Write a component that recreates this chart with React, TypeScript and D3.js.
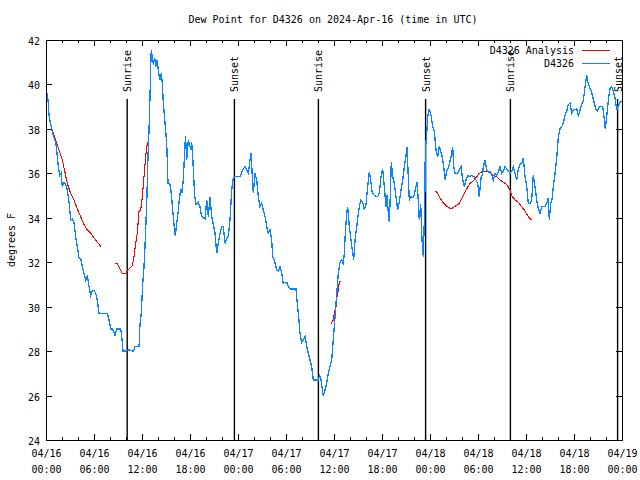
import React, { useEffect, useRef } from 'react';
import * as d3 from 'd3';

// hours after 2024-04-16 00:00 UTC
const dewHours = [
  0.16, 0.25, 0.38, 0.59, 0.91, 1.21, 1.41, 1.54, 1.71, 1.88, 2.04, 2.25, 2.46, 2.66, 2.88, 3.09, 3.29, 3.5, 3.71, 3.91,
  4.13, 4.34, 4.54, 4.75, 4.96, 5.16, 5.38, 5.59, 5.79, 6.0, 6.21, 6.41, 6.63, 6.88, 7.25, 7.66, 7.88, 8.09, 8.31, 8.63,
  8.84, 9.34, 9.46, 9.63, 10.0, 10.38, 10.91, 11.13, 11.63, 11.75, 11.91, 12.09, 12.25, 12.41, 12.59, 12.75, 12.88, 13.0,
  13.09, 13.16, 13.29, 13.41, 13.59, 13.71, 13.91, 14.04, 14.25, 14.41, 14.54, 14.66, 14.88, 15.09, 15.25, 15.5, 15.66,
  15.84, 16.0, 16.16, 16.34, 16.5, 16.66, 16.84, 17.0, 17.16, 17.34, 17.44, 17.59, 17.79, 17.91, 18.09, 18.21, 18.38,
  18.59, 18.75, 19.04, 19.25, 19.46, 19.88, 20.09, 20.29, 20.5, 20.71, 20.91, 21.13, 21.34, 21.54, 21.75, 21.96, 22.16,
  22.38, 22.59, 22.79, 23.0, 23.21, 23.41, 23.63, 24.25, 24.66, 24.88, 25.09, 25.29, 25.5, 25.63, 25.79, 25.91, 26.13,
  26.34, 26.54, 26.75, 26.96, 27.16, 27.38, 27.59, 27.79, 28.0, 28.21, 28.34, 28.54, 28.84, 29.04, 29.25, 29.46, 29.66,
  29.88, 30.09, 30.29, 30.5, 31.25, 31.41, 31.59, 31.75, 31.96, 32.16, 32.38, 32.59, 32.79, 33.0, 33.21, 33.41, 34.04,
  34.21, 34.38, 34.66, 34.88, 35.09, 35.29, 35.5, 35.71, 35.91, 36.13, 36.34, 36.54, 36.75, 36.96, 37.16, 37.29, 37.41,
  37.59, 37.71, 37.91, 38.13, 38.34, 38.46, 38.63, 38.84, 39.04, 39.25, 39.38, 39.59, 39.79, 40.0, 40.21, 40.41, 40.54,
  40.75, 41.04, 41.46, 41.66, 41.88, 42.09, 42.29, 42.5, 42.63, 42.79, 42.91, 43.04, 43.16, 43.34, 43.54, 43.75, 43.96,
  44.16, 44.38, 44.59, 44.79, 45.0, 45.13, 45.25, 45.41, 45.63, 45.84, 46.04, 46.25, 46.38, 46.5, 46.66, 46.84, 47.0,
  47.16, 47.34, 47.41, 47.59, 47.71, 47.91, 48.13, 48.34, 48.54, 48.75, 48.96, 49.16, 49.5, 49.66, 49.91, 50.09, 50.34,
  50.63, 50.84, 50.96, 51.13, 51.46, 51.66, 51.88, 52.09, 52.29, 52.5, 52.71, 52.91, 53.13, 53.54, 53.75, 53.96, 54.16,
  54.38, 54.59, 54.66, 54.88, 55.09, 55.29, 55.5, 55.71, 55.91, 56.13, 56.34, 56.54, 56.75, 56.96, 57.16, 57.38, 57.59,
  57.79, 58.0, 58.21, 58.41, 58.63, 58.84, 59.04, 59.25, 59.46, 59.66, 59.88, 60.09, 60.29, 60.5, 60.71, 60.91, 61.13,
  61.34, 61.54, 61.75, 61.96, 62.38, 62.59, 62.79, 62.91, 63.09, 63.25, 63.41, 63.63, 63.84, 64.04, 64.25, 64.46, 64.66,
  64.88, 65.09, 65.29, 65.5, 65.71, 65.91, 66.34, 66.54, 66.75, 66.96, 67.16, 67.38, 67.59, 67.75, 67.91, 68.13, 68.34,
  68.54, 68.75, 68.91, 69.16, 69.59, 69.75, 69.91, 70.09, 70.29, 70.5, 70.71, 70.91, 71.13, 71.34, 71.5, 71.66, 71.96
];
const dewValues = [
  39.6, 39.3, 38.6, 38.2, 37.7, 37.4, 36.8, 36.3, 35.9, 36.0, 35.4, 35.6, 35.5, 35.25, 34.7, 33.9, 33.95, 33.8, 33.15, 32.7,
  32.2, 32.15, 31.8, 31.5, 31.2, 31.4, 30.9, 30.5, 30.7, 30.75, 30.6, 30.3, 29.7, 29.7, 29.7, 29.7, 29.4, 29.0, 29.0, 28.7,
  29.0, 29.0, 28.7, 28.0, 28.0, 28.05, 28.0, 28.2, 28.2, 29.2, 29.7, 31.0, 31.8, 33.0, 34.65, 36.75, 38.0, 39.45,
  40.8, 41.55, 41.25, 40.9, 41.2, 40.8, 41.1, 40.6, 40.2, 40.5, 40.05, 39.2, 38.25, 37.35, 35.55, 35.5, 35.1,
  34.35, 33.7, 33.2, 33.75, 34.2, 34.8, 35.3, 35.1, 35.7, 37.05, 37.7, 36.6, 37.5, 37.35, 37.05, 37.4, 36.45,
  34.95, 34.6, 34.7, 34.5, 34.05, 33.95, 34.8, 34.05, 34.95, 34.05, 33.7, 33.3, 32.4, 32.85, 33.3, 33.6, 33.6,
  32.85, 33.05, 33.2, 33.9, 35.25, 35.8, 35.85, 35.85, 36.2, 36.3, 36.15, 36.0, 36.6, 36.9, 35.85, 35.1, 36.0,
  35.7, 34.95, 34.5, 34.65, 34.35, 34.05, 33.6, 33.3, 33.45, 33.0, 32.25, 32.1, 31.65, 31.6, 31.8, 31.5, 31.05,
  31.1, 31.1, 30.9, 30.8, 30.8, 30.15, 29.55, 28.8, 28.4, 28.5, 28.65, 28.2, 27.9, 27.6, 27.3, 26.7, 26.7,
  26.9, 26.7, 26.0, 26.25, 26.55, 27.0, 27.3, 27.6, 28.5, 29.55, 30.6, 31.5, 32.0, 32.1, 31.9, 32.4, 33.3,
  34.2, 34.5, 33.6, 33.0, 32.4, 32.1, 33.0, 33.6, 34.2, 34.65, 34.8, 34.7, 34.35, 34.6, 35.4, 36.05, 35.8,
  35.2, 35.0, 34.95, 35.1, 35.85, 36.2, 35.4, 34.5, 35.0, 34.2, 33.8, 35.0, 36.5, 35.85, 35.55, 34.95, 34.35,
  34.7, 35.25, 35.7, 36.3, 36.8, 37.2, 36.15, 34.8, 34.95, 34.9, 35.05, 35.4, 35.6, 35.0, 33.9, 34.6, 33.0,
  32.25, 34.5, 37.0, 37.8, 38.55, 38.9, 38.6, 38.1, 37.9, 37.05, 36.75, 37.2, 36.8, 36.45, 35.7, 36.1, 36.3,
  36.75, 37.2, 36.3, 36.0, 36.0, 36.15, 36.3, 35.7, 35.4, 35.7, 35.9, 35.85, 35.9, 35.85, 35.7, 35.55, 34.95,
  35.8, 36.0, 36.3, 36.6, 36.15, 36.05, 36.1, 35.95, 35.7, 36.0, 35.9, 36.05, 36.3, 36.0, 36.1, 36.3, 36.2,
  36.1, 36.0, 36.1, 36.3, 36.0, 35.7, 36.2, 36.4, 36.45, 36.7, 35.85, 35.4, 34.65, 34.65, 34.8, 35.9, 35.4,
  34.8, 34.4, 34.2, 34.5, 34.5, 34.65, 34.9, 33.9, 34.65, 34.8, 35.4, 36.0, 36.7, 37.65, 38.0, 38.1, 38.25,
  38.6, 38.8, 39.1, 39.15, 38.7, 38.85, 38.9, 38.6, 38.85, 39.1, 39.25, 39.9, 40.4, 40.1, 39.9, 39.75, 39.45,
  39.15, 38.85, 38.8, 39.0, 39.0, 38.55, 38.0, 38.55, 39.3, 39.8, 39.9, 39.7, 39.4, 38.85, 39.0, 39.15, 39.25
];

// null = no analysis value (gap in the line)
const analysisHours = [
  0.79, 1.21, 1.63, 2.04, 2.34, 2.66, 3.09, 3.5, 3.91, 4.34, 4.75, 5.16, 5.59, 6.0, 6.41, 6.91, 7.8,
  8.63, 8.91, 9.25, 9.54, 9.96, 10.38, 10.79, 11.0, 11.21, 11.41, 11.63, 11.84, 12.04, 12.25, 12.46, 12.66, 12.88, 20,
  35.63, 35.91, 36.04, 36.25, 36.34, 36.54, 36.66, 36.88, 40,
  48.66, 48.96, 49.25, 49.59, 50.0, 50.63, 51.04, 51.66, 52.09, 52.5, 52.91, 53.34, 53.75, 54.16, 54.59, 55.09,
  55.5, 55.91, 56.34, 56.75, 57.16, 57.59, 58.0, 58.21, 58.63, 59.04, 59.46, 59.88, 60.29, 60.71
];
const analysisValues = [
  37.95, 37.5, 37.05, 36.6, 36.1, 35.55, 35.1, 34.8, 34.4, 34.05, 33.7, 33.45, 33.3, 33.1, 32.9, 32.7, null,
  31.95, 31.95, 31.7, 31.5, 31.5, 31.7, 31.85, 32.25, 32.85, 33.3, 34.3, 34.35, 34.95, 35.85, 36.75, 37.35, 37.5, null,
  29.25, 29.4, 29.7, 30.0, 30.4, 30.75, 31.1, 31.15, null,
  35.2, 35.1, 34.9, 34.7, 34.55, 34.4, 34.5, 34.65, 34.95, 35.25, 35.5, 35.65, 35.8, 36.0, 36.1, 36.1,
  36.05, 35.9, 35.85, 35.7, 35.6, 35.5, 35.25, 35.0, 34.8, 34.7, 34.5, 34.3, 34.05, 33.9
];

const sunHours = [10.15, 23.55, 34.05, 47.45, 58.05, 71.45];
const sunLabels = ['Sunrise', 'Sunset', 'Sunrise', 'Sunset', 'Sunrise', 'Sunset'];

const yTicks = [24, 26, 28, 30, 32, 34, 36, 38, 40, 42];

const START = Date.UTC(2024, 3, 16);
const toDate = (h: number) => new Date(START + h * 3600 * 1000);

const FONT = '"DejaVu Sans Mono", monospace';
const BLUE = '#0a84ff';
const RED = '#ff0000';

const DewPointChart = () => {
  const rootRef = useRef<SVGSVGElement>(null);

  useEffect(() => {
    const width = 640;
    const height = 480;
    const left = 46;
    const right = 622;
    const top = 40;
    const bottom = 440;

    const svg = d3.select(rootRef.current).attr('width', width).attr('height', height);
    svg.selectAll('*').remove();

    svg.append('rect').attr('width', width).attr('height', height).attr('fill', 'white');

    const x = d3.scaleUtc().domain([toDate(0), toDate(72)]).range([left, right]);
    const y = d3.scaleLinear().domain([24, 42]).range([bottom, top]);

    const g = svg.append('g').attr('font-family', FONT).attr('font-size', 10).attr('fill', 'black');

    // title + y label
    g.append('text')
      .attr('x', 333)
      .attr('y', 23)
      .attr('text-anchor', 'middle')
      .text('Dew Point for D4326 on 2024-Apr-16 (time in UTC)');
    g.append('text')
      .attr('transform', 'translate(15,240) rotate(-90)')
      .attr('text-anchor', 'middle')
      .text('degrees F');

    const axes = g.append('g').attr('stroke', 'black').attr('shape-rendering', 'crispEdges');

    // y ticks (both sides)
    yTicks.forEach((t) => {
      const yy = Math.round(y(t)) + 0.5;
      axes.append('line').attr('x1', left).attr('x2', left + 6).attr('y1', yy).attr('y2', yy);
      axes.append('line').attr('x1', right - 6).attr('x2', right).attr('y1', yy).attr('y2', yy);
      g.append('text')
        .attr('x', 40)
        .attr('y', yy + 4)
        .attr('text-anchor', 'end')
        .text(t);
    });

    // x ticks: major every 6h, minor every 2h
    const minor = x.ticks(d3.utcHour.every(2)!);
    minor.forEach((d) => {
      const isMajor = d.getUTCHours() % 6 === 0;
      const len = isMajor ? 6 : 3;
      const xx = Math.round(x(d)) + 0.5;
      axes.append('line').attr('x1', xx).attr('x2', xx).attr('y1', bottom).attr('y2', bottom - len);
      axes.append('line').attr('x1', xx).attr('x2', xx).attr('y1', top).attr('y2', top + len);
      if (isMajor) {
        const t = g.append('text').attr('text-anchor', 'middle');
        t.append('tspan').attr('x', xx).attr('y', 457).text(d3.utcFormat('%m/%d')(d));
        t.append('tspan').attr('x', xx).attr('y', 473).text(d3.utcFormat('%H:%M')(d));
      }
    });

    // sunrise / sunset markers
    sunHours.forEach((h, i) => {
      const xx = x(toDate(h));
      g.append('line')
        .attr('x1', xx)
        .attr('x2', xx)
        .attr('y1', 99)
        .attr('y2', bottom)
        .attr('stroke', 'black')
        .attr('stroke-width', 1.4);
      g.append('text')
        .attr('transform', `translate(${xx + 4},92) rotate(-90)`)
        .attr('text-anchor', 'start')
        .text(sunLabels[i]);
    });

    const line = d3
      .line<[number, number | null]>()
      .defined((d) => d[1] !== null)
      .x((d) => x(toDate(d[0])))
      .y((d) => y(d[1] as number));

    const dewData: [number, number | null][] = dewHours.map((h, i) => [h, dewValues[i]]);
    const analysisData: [number, number | null][] = analysisHours.map((h, i) => [h, analysisValues[i]]);

    g.append('path')
      .datum(analysisData)
      .attr('d', line)
      .attr('fill', 'none')
      .attr('stroke', RED)
      .attr('stroke-width', 1.1)
      .attr('shape-rendering', 'crispEdges');

    g.append('path')
      .datum(dewData)
      .attr('d', line)
      .attr('fill', 'none')
      .attr('stroke', BLUE)
      .attr('stroke-width', 1.3)
      .attr('shape-rendering', 'crispEdges');

    // legend
    const legend = [
      { label: 'D4326 Analysis', color: RED, yy: 50 },
      { label: 'D4326', color: BLUE, yy: 63 }
    ];
    legend.forEach((l) => {
      g.append('text').attr('x', 574).attr('y', l.yy + 4).attr('text-anchor', 'end').text(l.label);
      g.append('line')
        .attr('x1', 582)
        .attr('x2', 610)
        .attr('y1', l.yy + 0.5)
        .attr('y2', l.yy + 0.5)
        .attr('stroke', l.color)
        .attr('stroke-width', 1)
        .attr('shape-rendering', 'crispEdges');
    });

    // plot border
    axes.append('rect')
      .attr('x', left + 0.5)
      .attr('y', top + 0.5)
      .attr('width', right - left)
      .attr('height', bottom - top)
      .attr('fill', 'none');
  }, []);

  return <svg ref={rootRef} style={{ position: 'absolute', left: 0, top: 0 }}></svg>;
};

export default function App() {
  return <DewPointChart />;
}
